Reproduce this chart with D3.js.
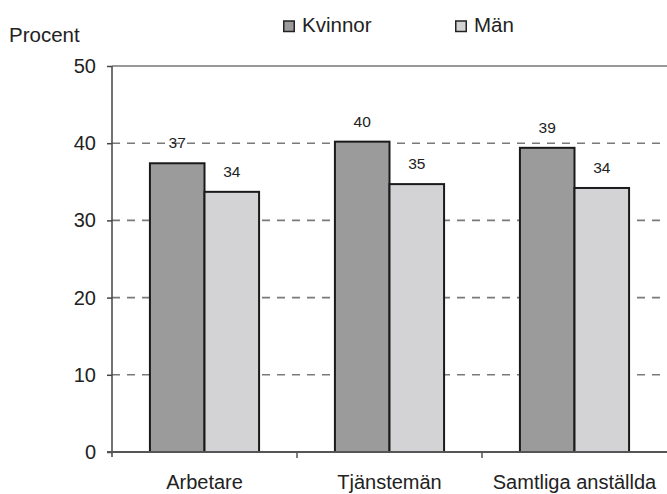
<!DOCTYPE html>
<html>
<head>
<meta charset="utf-8">
<script src="https://cdn.jsdelivr.net/npm/d3@7"></script>
<style>
  html, body { margin: 0; padding: 0; background: #fff; }
  svg { display: block; font-family: "Liberation Sans", Arial, sans-serif; }
</style>
</head>
<body>
<svg id="chart" width="667" height="494"></svg>
<script>
const categories = ["Arbetare", "Tjänstemän", "Samtliga anställda"];
const seriesNames = ["Kvinnor", "Män"];
const kvinnor = [37.4, 40.2, 39.4];
const man = [33.7, 34.7, 34.2];
const valueLabels = [[37, 34], [40, 35], [39, 34]];
const yTicks = [0, 10, 20, 30, 40, 50];
const colors = { "Kvinnor": "#9b9b9b", "Män": "#d3d3d5" };

(function () {
const svg = d3.select("#chart");
const pLeft = 112, pRight = 667, pTop = 66, pBottom = 452;

const x = d3.scaleBand().domain(categories).range([pLeft, pRight])
  .paddingInner(0.41).paddingOuter(0.205);
const xs = d3.scaleBand().domain(seriesNames).range([0, x.bandwidth()]);
const y = d3.scaleLinear().domain([0, 50]).range([pBottom, pTop]);

// gridlines
svg.append("g").selectAll("line").data(yTicks.filter(d => d > 0)).join("line")
  .attr("x1", pLeft).attr("x2", pRight)
  .attr("y1", d => y(d)).attr("y2", d => y(d))
  .attr("stroke", d => d === 50 ? "#999" : "#7a7a7a")
  .attr("stroke-width", d => d === 50 ? 2 : 1.6)
  .attr("stroke-dasharray", d => d === 50 ? null : "8,7");

// bars
const data = categories.map((c, i) => ({ cat: c, vals: [kvinnor[i], man[i]], labels: valueLabels[i] }));
const groups = svg.append("g").selectAll("g").data(data).join("g")
  .attr("transform", d => `translate(${x(d.cat)},0)`);
groups.selectAll("rect").data(d => seriesNames.map((s, j) => ({ s, v: d.vals[j] }))).join("rect")
  .attr("x", d => xs(d.s)).attr("width", xs.bandwidth())
  .attr("y", d => y(d.v)).attr("height", d => y(0) - y(d.v))
  .attr("fill", d => colors[d.s]).attr("stroke", "#1a1a1a").attr("stroke-width", 2);
groups.selectAll("text").data(d => seriesNames.map((s, j) => ({ s, v: d.vals[j], l: d.labels[j] }))).join("text")
  .attr("x", d => xs(d.s) + xs.bandwidth() / 2)
  .attr("y", d => y(d.v) - 15)
  .attr("text-anchor", "middle").attr("font-size", 15.5).attr("fill", "#222")
  .text(d => d.l);

// y axis
const yAxis = svg.append("g").attr("transform", `translate(${pLeft},0)`)
  .call(d3.axisLeft(y).tickValues(yTicks).tickSize(5).tickPadding(11));
yAxis.select(".domain").remove();
yAxis.selectAll(".tick line").attr("stroke", "#444").attr("stroke-width", 1.5);
yAxis.selectAll(".tick text").attr("font-size", 20).attr("fill", "#222")
  .attr("font-family", "Liberation Sans, Arial, sans-serif");
svg.append("line").attr("x1", pLeft).attr("x2", pLeft).attr("y1", pTop).attr("y2", pBottom + 5)
  .attr("stroke", "#444").attr("stroke-width", 1.5);

// x axis
svg.append("line").attr("x1", pLeft - 5).attr("x2", pRight).attr("y1", pBottom).attr("y2", pBottom)
  .attr("stroke", "#555").attr("stroke-width", 1.8);
const boundaries = categories.slice(1).map(c => x(c) - x.step() * x.paddingInner() / 2);
svg.append("g").selectAll("line").data(boundaries).join("line")
  .attr("x1", d => d).attr("x2", d => d).attr("y1", pBottom).attr("y2", pBottom + 6)
  .attr("stroke", "#555").attr("stroke-width", 1.5);
const xAxis = svg.append("g").attr("transform", `translate(0,${pBottom})`)
  .call(d3.axisBottom(x).tickSize(0).tickPadding(0));
xAxis.select(".domain").remove();
xAxis.selectAll(".tick text").attr("font-size", 20).attr("fill", "#222")
  .attr("font-family", "Liberation Sans, Arial, sans-serif")
  .attr("dy", null).attr("y", 37);

// y title
svg.append("text").attr("x", 9).attr("y", 41.5).attr("font-size", 20.5).attr("fill", "#222").text("Procent");

// legend
const legendX = [283, 455];
const legend = svg.append("g").selectAll("g").data(seriesNames).join("g")
  .attr("transform", (d, i) => `translate(${legendX[i]},0)`);
legend.append("rect").attr("x", 0.75).attr("y", 21).attr("width", 10.5).attr("height", 10.5)
  .attr("fill", d => colors[d]).attr("stroke", "#222").attr("stroke-width", 1.5);
legend.append("text").attr("x", 19).attr("y", 32.3).attr("font-size", 20.5).attr("fill", "#222").text(d => d);
})();
</script>
</body>
</html>
